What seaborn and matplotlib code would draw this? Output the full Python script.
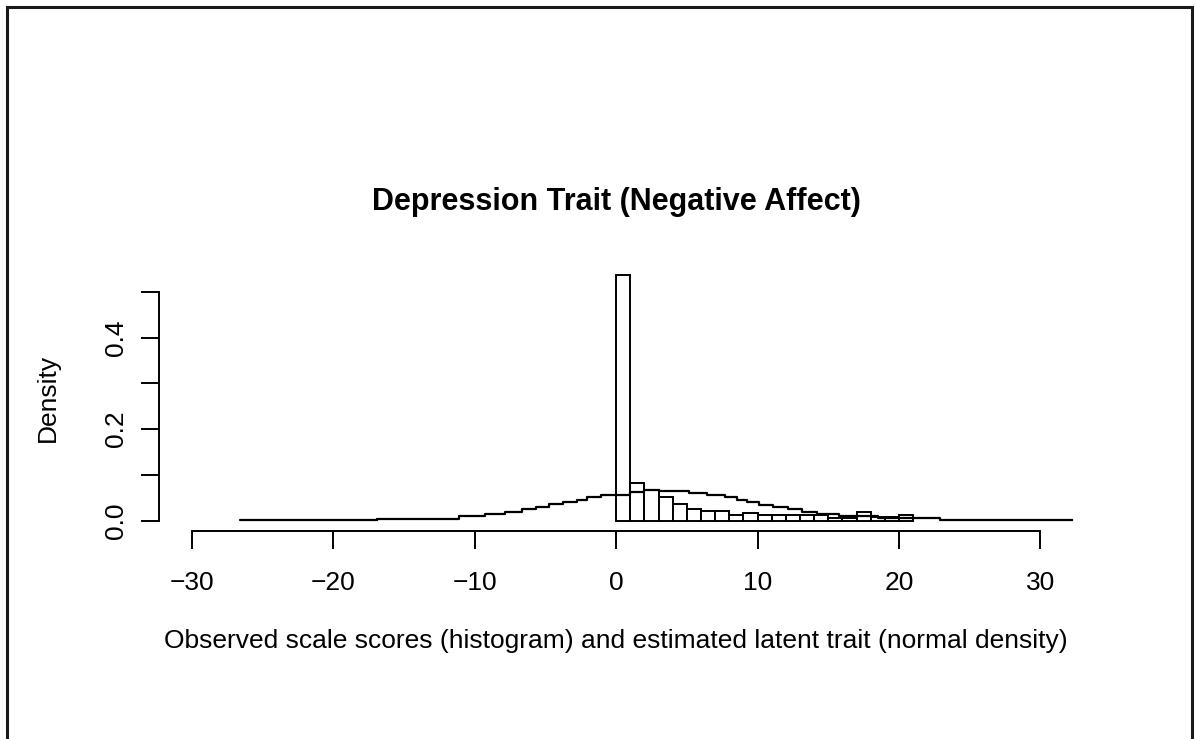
import numpy as np
import pandas as pd
import matplotlib
matplotlib.use("Agg")
import matplotlib.pyplot as plt
from matplotlib.patches import Rectangle
import seaborn as sns

# ---- data ----
bin_edges = list(range(0, 22))
hist_density = [0.537, 0.082, 0.066, 0.052, 0.0365, 0.0256, 0.0205, 0.0205,
                0.0118, 0.0168, 0.012, 0.012, 0.012, 0.013, 0.012, 0.006,
                0.006, 0.019, 0.007, 0.007, 0.0125]

curve_x = [-26.6, -16.9, -11.1, -9.27, -7.86, -6.63, -5.66, -4.72, -3.77, -2.78,
           -2.03, -1.08, 1.0, 2.0, 3.04, 5.17, 6.42, 7.71, 8.54, 9.25, 10.07,
           11.09, 12.12, 13.14, 14.2, 15.73, 18.5, 22.93, 32.4]
curve_y = [0.0005, 0.004, 0.0095, 0.015, 0.020, 0.025, 0.030, 0.036, 0.041, 0.046,
           0.051, 0.056, 0.063, 0.067, 0.065, 0.061, 0.057, 0.051, 0.046, 0.041,
           0.035, 0.030, 0.025, 0.020, 0.015, 0.010, 0.0065, 0.001, 0.001]

x_ticks = [-30, -20, -10, 0, 10, 20, 30]
y_ticks = [0.0, 0.1, 0.2, 0.3, 0.4, 0.5]
y_ticklabels = ["0.0", "", "0.2", "", "0.4", ""]

title = "Depression Trait (Negative Affect)"
xlabel = "Observed scale scores (histogram) and estimated latent trait (normal density)"
ylabel = "Density"

# ---- styling ----
sns.set_style("ticks")
plt.rcParams["font.family"] = ["Liberation Sans", "DejaVu Sans"]
plt.rcParams["axes.unicode_minus"] = True
plt.rcParams["text.color"] = "black"
plt.rcParams["axes.labelcolor"] = "black"

W, H = 1196, 739
fig = plt.figure(figsize=(W / 100, H / 100), dpi=100)
fig.patch.set_facecolor("white")

left_px, right_px, top_px, bottom_px = 159.3, 1073.0, 265.2, 530.5
ax = fig.add_axes([left_px / W, 1 - bottom_px / H,
                   (right_px - left_px) / W, (bottom_px - top_px) / H])
ax.set_facecolor("white")

LW = 1.4
hist_df = pd.DataFrame({"score": [e + 0.5 for e in bin_edges[:-1]],
                        "density": hist_density})
sns.histplot(data=hist_df, x="score", weights="density", bins=bin_edges,
             stat="count", color="white", edgecolor="black", linewidth=LW,
             alpha=1, ax=ax, zorder=2)

curve_df = pd.DataFrame({"x": curve_x, "y": curve_y})
sns.lineplot(data=curve_df, x="x", y="y", drawstyle="steps-post", color="black",
             linewidth=LW + 0.2, estimator=None, ax=ax, zorder=3)

ax.set_xlim(-32.3, 32.3)
ax.set_ylim(-0.0215, 0.5585)

for s in ["top", "right"]:
    ax.spines[s].set_visible(False)
for s in ["left", "bottom"]:
    ax.spines[s].set_visible(True)
    ax.spines[s].set_linewidth(LW)
    ax.spines[s].set_color("black")
ax.spines["bottom"].set_bounds(-30, 30)
ax.spines["left"].set_bounds(0, 0.5)

ax.set_xticks(x_ticks)
ax.set_yticks(y_ticks)
ax.set_yticklabels(y_ticklabels)
ax.tick_params(axis="both", which="major", direction="out", length=13.3, width=LW,
               colors="black", labelcolor="black", labelsize=19,
               bottom=True, left=True, top=False, right=False)
ax.tick_params(axis="x", pad=16)
ax.tick_params(axis="y", pad=9)
for lab in ax.get_yticklabels():
    lab.set_rotation(90)
    lab.set_va("center")
    lab.set_ha("right")

ax.grid(False)
ax.set_title(title, fontsize=22, fontweight="bold", color="black",
             y=(bottom_px - 202) / (bottom_px - top_px), va="center", pad=0)
ax.set_xlabel(xlabel, fontsize=19, va="center", color="black")
ax.xaxis.set_label_coords(0.5, -(641 - bottom_px) / (bottom_px - top_px))
ax.set_ylabel(ylabel, fontsize=19, va="center", color="black")
ax.yaxis.set_label_coords(-(left_px - 48) / (right_px - left_px), 0.5)

# outer frame
fig.add_artist(Rectangle((7 / W, -0.05), (1192 - 7) / W, (1 - 7 / H) + 0.05,
                         transform=fig.transFigure, fill=False,
                         edgecolor="#1a1a1a", linewidth=2.2))

fig.savefig("out.png", dpi=100)
